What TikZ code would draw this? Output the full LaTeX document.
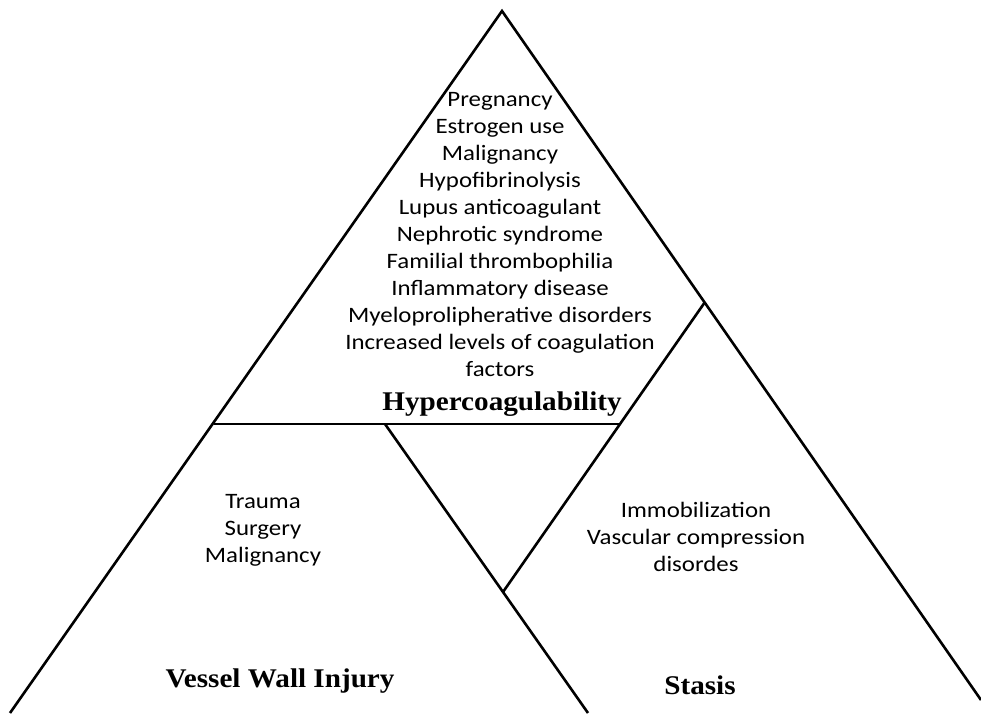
\documentclass[tikz,border=0pt]{standalone}
\usepackage{fontspec}
\setmainfont{Carlito}[FakeStretch=1.13]
\newfontfamily\titlefont{Liberation Serif}[FakeStretch=1.08]

\begin{document}
\begin{tikzpicture}[x=1pt,y=-1pt,
    edge/.style={line width=2.6pt,line join=miter},
    causes/.style={align=center,inner sep=0pt,font=\fontsize{22}{27}\selectfont},
    heading/.style={inner sep=0pt,font=\titlefont\bfseries\fontsize{27}{30}\selectfont}]
  \useasboundingbox (0,0) rectangle (981,713);

  % corners and crossings of the triad
  \coordinate (apex) at (502,11);
  \coordinate (baseL) at (10,713);
  \coordinate (baseR) at (981,700);
  \coordinate (cutL) at (214,424);
  \coordinate (cutM) at (385,424);
  \coordinate (cutR) at (620,424);
  \coordinate (stasisTop) at (705,302);
  \coordinate (meet) at (503,592);
  \coordinate (baseM) at (588,713);

  \draw[edge] (baseL) -- (apex) -- (baseR);
  \draw[edge] (cutL) -- (cutR);
  \draw[edge] (cutM) -- (baseM);
  \draw[edge] (stasisTop) -- (meet);

  % top corner
  \node[causes] (hyperlist) at (500,235) {Pregnancy\\Estrogen use\\Malignancy\\Hypofibrinolysis\\
    Lupus anticoagulant\\Nephrotic syndrome\\Familial thrombophilia\\Inflammatory disease\\
    Myeloprolipherative disorders\\Increased levels of coagulation\\factors};
  \node[heading] (hyper) at (502,404) {Hypercoagulability};

  % left corner
  \node[causes] (injurylist) at (263,530) {Trauma\\Surgery\\Malignancy};
  \node[heading] (injury) at (280,681) {Vessel Wall Injury};

  % right corner
  \node[causes] (stasislist) at (696,537) {Immobilization\\Vascular compression\\disordes};
  \node[heading] (stasis) at (700,685) {Stasis};
\end{tikzpicture}
\end{document}
